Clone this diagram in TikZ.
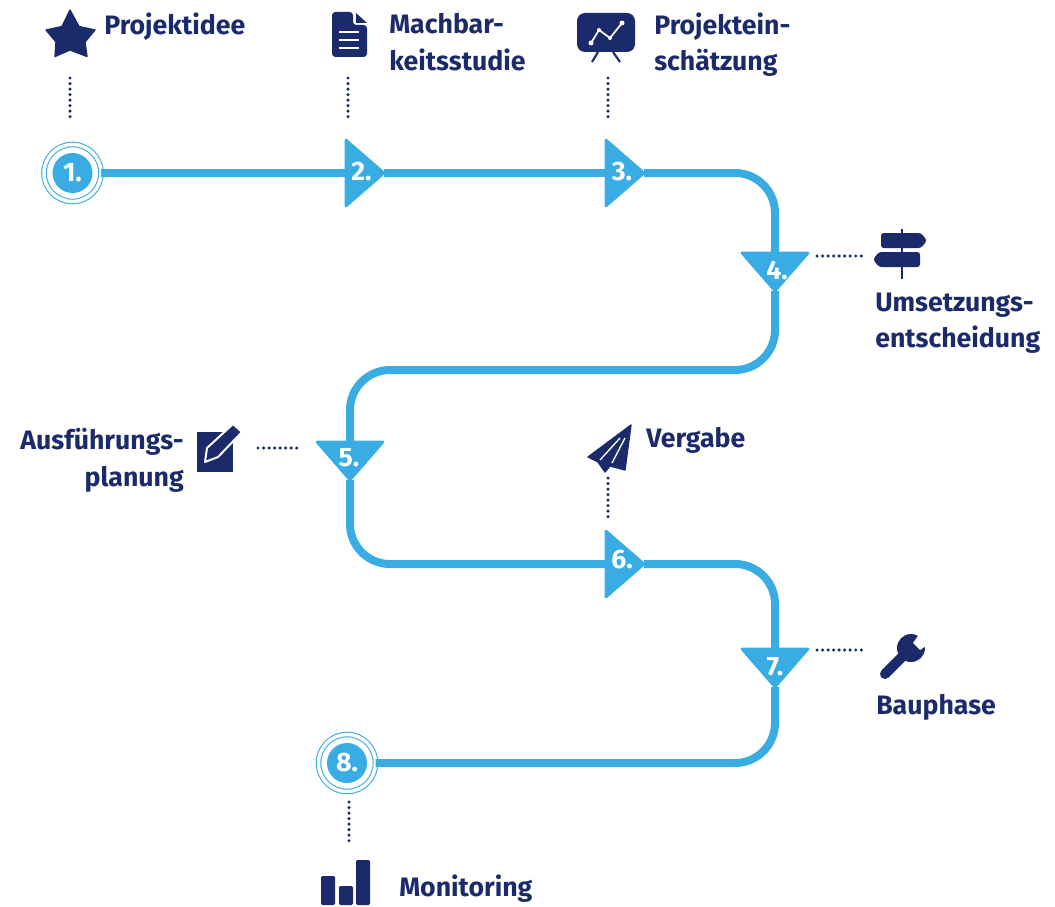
\documentclass[tikz,border=0pt]{standalone}
\usepackage{fontspec}
\setmainfont{Fira Sans}
\usetikzlibrary{shapes.geometric}
\definecolor{skyline}{HTML}{39ACE3}
\definecolor{navyline}{HTML}{1B2A6B}
\tikzset{
  route/.style={draw=skyline, line width=6pt, rounded corners=30pt},
  dotline/.style={draw=navyline, line width=2.6pt, line cap=round, dash pattern=on 0pt off 4.15pt},
  marker/.style={isosceles triangle, isosceles triangle stretches, fill=skyline, draw=skyline,
    line width=2pt, line join=round, minimum height=28.5pt, minimum width=49.5pt, inner sep=0pt, outer sep=0pt},
  markerright/.style={marker, shape border rotate=0, anchor=apex},
  markerdown/.style={marker, shape border rotate=-90, anchor=apex},
  ring/.style={circle, draw=skyline, line width=.8pt, double=white, double distance=2.6pt,
    minimum size=42.75pt, inner sep=0pt, outer sep=0pt},
  disc/.style={circle, fill=skyline, minimum size=30pt, inner sep=0pt},
  num/.style={text=white, font=\bfseries\fontsize{20}{20}\selectfont, inner sep=0pt},
  caption/.style={text=navyline, font=\bfseries\fontsize{20}{26.5}\selectfont, inner sep=0pt, align=left},
  icon/.style={fill=navyline, draw=navyline, line width=1pt, line join=round}
}
\begin{document}
\begin{tikzpicture}[x=.75pt,y=-.75pt]
\useasboundingbox (0,0) rectangle (1055,906);

% stations
\node[disc,num] (n1) at (72.5,173) {1.};
\node[ring] (s1) at (n1) {};
\node[markerright] (s2) at (384,173) {};
\node[markerright] (s3) at (644,173) {};
\node[markerdown] (s4) at (775,291) {};
\node[markerdown] (s5) at (350,480) {};
\node[markerright] (s6) at (644,564) {};
\node[markerdown] (s7) at (775,687) {};
\node[disc,num] (n8) at (347,763) {8.};
\node[ring] (s8) at (n8) {};

\node[num] (n2) at (361.5,172) {2.};
\node[num] (n3) at (622,172) {3.};
\node[num] (n4) at (777,270) {4.};
\node[num] (n5) at (349,458) {5.};
\node[num] (n6) at (622,560) {6.};
\node[num] (n7) at (775,667) {7.};

% main line
\coordinate (c1) at (775,370);
\coordinate (c2) at (350,370);
\draw[route] (s1) -- (s2.lower side);
\draw[route] (s2.apex) -- (s3.lower side);
\draw[route] (s3.apex) -| (s4.lower side);
\draw[route] (s4.apex) -- (c1) -- (c2) -- (s5.lower side);
\draw[route] (s5.apex) |- (s6.lower side);
\draw[route] (s6.apex) -| (s7.lower side);
\draw[route] (s7.apex) |- (s8);

% dotted leaders
\coordinate (d1) at (70,78);
\coordinate (e1) at (70,122);
\coordinate (d2) at (348,78);
\coordinate (e2) at (348,122);
\coordinate (d3) at (608,78);
\coordinate (e3) at (608,122);
\coordinate (d4) at (817,256);
\coordinate (e4) at (862,256);
\coordinate (d5) at (258,448);
\coordinate (e5) at (302,448);
\coordinate (d6) at (608,478);
\coordinate (e6) at (608,520);
\coordinate (d7) at (817,650);
\coordinate (e7) at (862,650);
\coordinate (d8) at (349,802);
\coordinate (e8) at (349,845);
\draw[dotline] (d1) -- (e1);
\draw[dotline] (d2) -- (e2);
\draw[dotline] (d3) -- (e3);
\draw[dotline] (d4) -- (e4);
\draw[dotline] (d5) -- (e5);
\draw[dotline] (d6) -- (e6);
\draw[dotline] (d7) -- (e7);
\draw[dotline] (d8) -- (e8);

% captions
\node[caption, anchor=base west] (t1) at (104,35) {Projektidee};
\node[caption, anchor=north west] (t2) at (389,13) {Machbar-\\[1.5pt]keitsstudie};
\node[caption, anchor=north west] (t3) at (654,13) {Projektein-\\schätzung};
\node[caption, anchor=north west] (t4) at (875,293) {Umsetzungs-\\entscheidung};
\node[caption, anchor=north east, align=right] (t5) at (184,428) {Ausführungs-\\[1pt]planung};
\node[caption, anchor=base west] (t6) at (646,447) {Vergabe};
\node[caption, anchor=base west] (t7) at (876,714.5) {Bauphase};
\node[caption, anchor=base west] (t8) at (399,896) {Monitoring};

% star
\filldraw[icon] (70,10) -- (79,26.5) -- (95,30) -- (85,42) -- (87,56.5) -- (70,50) -- (55,56.5) -- (56,42) -- (46,30) -- (62,26.5) -- cycle;

% document
\fill[navyline, rounded corners=2.5pt] (332,12) -- (353,12) -- (353,25) -- (367,25) -- (367,57) -- (332,57) -- cycle;
\fill[navyline] (356,13) -- (367,23) -- (356,23) -- cycle;
\draw[white, line width=1.5pt] (339,32) -- (359,32) (339,40) -- (359,40) (339,48) -- (359,48);

% board
\fill[navyline, rounded corners=6pt] (577,13) rectangle (635,52);
\draw[navyline, line width=1.6pt] (598,52) -- (592,62) (613,52) -- (620,62);
\draw[white, line width=1.3pt] (591,43) -- (599,30) -- (610,38) -- (622,23);
\fill[white] (591,43) circle (2.5) (599,30) circle (2) (610,38) circle (2) (622,23) circle (2.5);

% signpost
\draw[navyline, line width=2.2pt] (902,229) -- (902,279);
\fill[navyline, rounded corners=2pt] (881,233) -- (921,233) -- (927,240.5) -- (921,248) -- (881,248) -- cycle;
\fill[navyline, rounded corners=2pt] (920,252) -- (879,252) -- (873,259.5) -- (879,267) -- (920,267) -- cycle;

% pencil
\fill[navyline] (197,432) rectangle (233,472);
\filldraw[fill=navyline, draw=white, line width=1.5pt, line join=round] (207,448) -- (233,424) -- (242,432) -- (218,457) -- (205,462) -- cycle;

% plane
\filldraw[icon] (631,425) -- (588,457) -- (598,462) -- (605,472) -- (610,466) -- (625,470) -- cycle;
\draw[white, line width=1pt] (600,460) -- (620,438) (612,463) -- (625,438);

% wrench
\draw[navyline, line width=7.5pt, line cap=round] (885,674) -- (906,653);
\fill[navyline] (911,648) circle (14);
\fill[white] (913,643) -- (920,650) -- (932,642) -- (922,630) -- cycle;

% bars
\fill[navyline, rounded corners=1pt] (321,876) rectangle (335,905);
\fill[navyline, rounded corners=1pt] (339,886) rectangle (353,905);
\fill[navyline, rounded corners=1pt] (356,860) rectangle (370,905);
\end{tikzpicture}
\end{document}
